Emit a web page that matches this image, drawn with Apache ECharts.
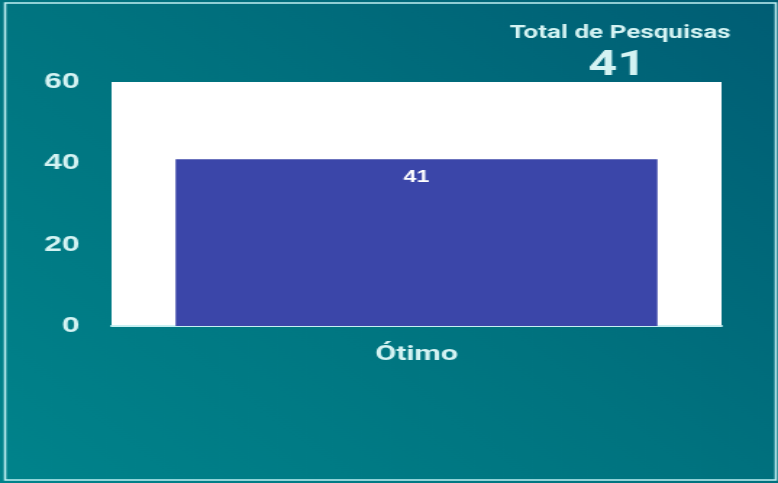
<!DOCTYPE html>
<html>
<head>
<meta charset="utf-8">
<script src="https://cdn.jsdelivr.net/npm/echarts@6/dist/echarts.min.js"></script>
<style>
html, body { margin: 0; padding: 0; overflow: hidden; }
/* the reference is a horizontally stretched screenshot, so the chart is drawn narrow and stretched */
#main { width: 537px; height: 483px; transform: scaleX(1.4488); transform-origin: 0 0; }
</style>
</head>
<body>
<div id="main"></div>
<script>
var categories = ['Ótimo'];
var values = [41];
var totalTitle = 'Total de Pesquisas';
var totalValue = 41;
var yTicks = [0, 20, 40, 60];

var myChart = echarts.init(document.getElementById('main'));
var labelColor = '#d4f3f3';

var option = {
    backgroundColor: new echarts.graphic.LinearGradient(0, 1, 1, 0, [
        { offset: 0, color: '#00838b' },
        { offset: 0.5, color: '#00737f' },
        { offset: 1, color: '#005d74' }
    ]),
    title: [{
        text: totalTitle,
        left: 423,
        top: 19,
        textAlign: 'center',
        textStyle: { color: labelColor, fontSize: 18, fontWeight: 'bold', fontFamily: 'Roboto' }
    }, {
        text: String(totalValue),
        left: 421,
        top: 44,
        textAlign: 'center',
        textStyle: { color: labelColor, fontSize: 35, fontWeight: 'bold', fontFamily: 'Roboto' }
    }],
    graphic: [{
        type: 'rect',
        shape: { x: 3.5, y: 3, width: 532, height: 477 },
        style: { fill: 'none', stroke: '#bfeff2', lineWidth: 1.6 },
        silent: true
    }],
    grid: {
        left: 77,
        right: 39,
        top: 82,
        bottom: 157,
        show: true,
        backgroundColor: '#ffffff',
        borderWidth: 0
    },
    xAxis: {
        type: 'category',
        data: categories,
        axisTick: { show: false },
        axisLine: { lineStyle: { color: '#c8f0f2', width: 2 } },
        axisLabel: { color: labelColor, fontSize: 21, fontWeight: 'bold', fontFamily: 'Roboto', margin: 18 }
    },
    yAxis: {
        type: 'value',
        min: yTicks[0],
        max: yTicks[yTicks.length - 1],
        interval: 20,
        splitLine: { show: false },
        axisLine: { show: false },
        axisTick: { show: false },
        axisLabel: { color: labelColor, fontSize: 22, fontWeight: 'bold', fontFamily: 'Liberation Sans', margin: 22, padding: [4, 0, 0, 0] }
    },
    series: [{
        type: 'bar',
        data: values,
        barWidth: '79%',
        itemStyle: { color: '#3b46a9' },
        label: {
            show: true,
            position: 'insideTop',
            distance: 10,
            color: '#ffffff',
            fontSize: 16,
            fontWeight: 'bold',
            fontFamily: 'Liberation Sans'
        }
    }]
};

myChart.setOption(option);
</script>
</body>
</html>
